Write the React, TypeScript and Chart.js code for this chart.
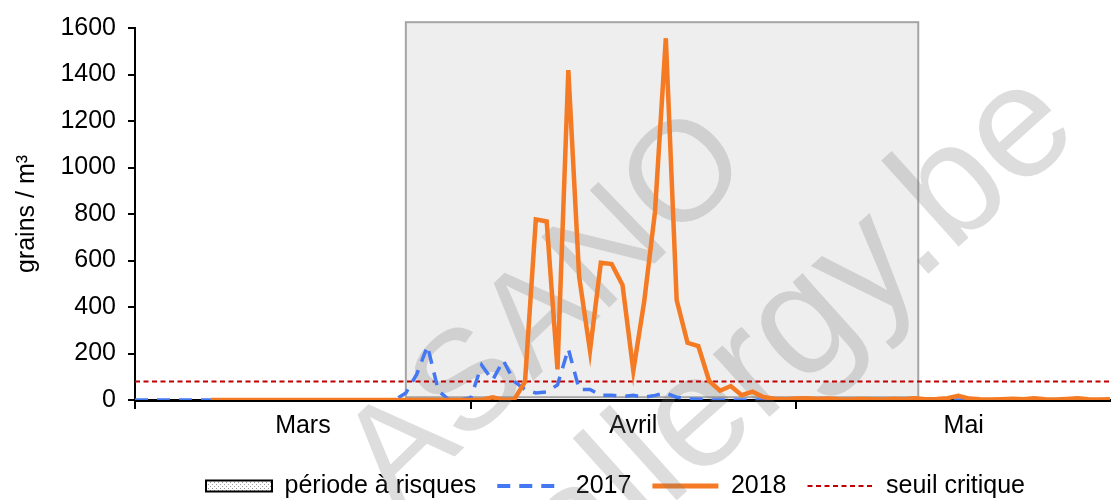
import React, { useEffect, useRef } from 'react';
import { Chart, registerables } from 'chart.js';

Chart.register(...registerables);

// ---------- data (x = day offset from 1 March) ----------
const monthLabels = ['Mars', 'Avril', 'Mai'];
const monthStarts = [0, 31, 61];
const monthCenters = [15.5, 46, 76.5];
const lastDay = 90;
const yTickValues = [0, 200, 400, 600, 800, 1000, 1200, 1400, 1600];
const legendLabels = ['période à risques', '2017', '2018', 'seuil critique'];

const pollen2017 = [
  0, 0, 0, 0, 0, 0, 0, 0, 0, 0,
  0, 0, 0, 0, 0, 0, 0, 0, 0, 0,
  0, 0, 0, 0, 0, 30, 110, 232, 40, 0,
  0, 10, 150, 85, 170, 80, 45, 30, 35, 65,
  220, 45, 45, 20, 20, 15, 20, 12, 20, 30,
  12, 5, 3, 0, 0, 0, 0, 0, 0, 0,
  0, 0, 0, 0, 0, 0, 0, 0, 0, 0,
  0, 0, 0, 0, 0, 0, 0, 0, 0, 0,
  0, 0, 0, 0, 0, 0, 0, 0, 0, 0,
  0,
];

const pollen2018 = [
  null, null, null, null, null, null, null, 0, 0, 0,
  0, 0, 0, 0, 0, 0, 0, 0, 0, 0,
  0, 0, 0, 0, 0, 0, 0, 0, 0, 0,
  0, 0, 0, 12, 0, 2, 78, 777, 768, 132,
  1419, 530, 212, 590, 585, 495, 126, 423, 810, 1556,
  430, 246, 232, 82, 40, 60, 21, 36, 13, 5,
  3, 6, 8, 4, 6, 3, 2, 4, 3, 2,
  4, 3, 8, 3, 4, 8, 18, 6, 3, 2,
  3, 5, 3, 7, 3, 2, 4, 7, 3, 2,
  3,
];

const seuilCritique = 80;
const periodeRisques = [25, 72.3]; // start / end day
const periodeBande = [12, 1625]; // low / high value of the band

// ---------- styles ----------
const FONT = "'Liberation Sans', Arial, Helvetica, sans-serif";
const BLUE = '#4477F2';
const ORANGE = '#F47A24';
const RED = '#C00000';
const LEGEND_X = 206;
const LEGEND_Y = 486;
const WATERMARK = 'rgba(120,120,120,0.25)';

function makePattern(): CanvasPattern | string {
  const c = document.createElement('canvas');
  c.width = 4;
  c.height = 4;
  const g = c.getContext('2d');
  if (!g) return '#dddddd';
  g.fillStyle = '#ffffff';
  g.fillRect(0, 0, 4, 4);
  g.fillStyle = '#9a9a9a';
  g.fillRect(0, 0, 1, 1);
  g.fillRect(2, 2, 1, 1);
  return g.createPattern(c, 'repeat') || '#dddddd';
}

function drawMark(ctx: CanvasRenderingContext2D, text: string, cx: number, cy: number, deg: number, size: number) {
  ctx.save();
  ctx.fillStyle = WATERMARK;
  ctx.textAlign = 'center';
  ctx.textBaseline = 'middle';
  ctx.translate(cx, cy);
  ctx.rotate((deg * Math.PI) / 180);
  ctx.font = `${size}px ${FONT}`;
  ctx.fillText(text, 0, 0);
  ctx.restore();
}

const riskPlugin = {
  id: 'riskPeriod',
  beforeDatasetsDraw(chart: any) {
    const { ctx } = chart;
    const xs = chart.scales.x;
    const ys = chart.scales.y;
    const left = xs.getPixelForValue(periodeRisques[0]);
    const right = xs.getPixelForValue(periodeRisques[1]);
    const top = ys.getPixelForValue(periodeBande[1]);
    const bottom = ys.getPixelForValue(periodeBande[0]);
    ctx.save();
    ctx.fillStyle = '#eeeeee';
    ctx.fillRect(left, top, right - left, bottom - top);
    ctx.strokeStyle = '#a5a5a5';
    ctx.lineWidth = 2;
    ctx.strokeRect(left, top, right - left, bottom - top);
    ctx.restore();

    drawMark(ctx, 'ASANO', 548, 312, -44, 142);
    drawMark(ctx, 'allergy.be', 800, 330, -42, 160);
  },
};

const legendShift = {
  id: 'legendShift',
  afterLayout(chart: any) {
    const lg = chart.legend;
    if (!lg || !lg.lineWidths) return;
    const pad = lg.options.labels.padding;
    const fontSize = lg.options.labels.font.size;
    const startX = (lg.left + pad + lg.right - lg.lineWidths[0]) / 2;
    const dx = LEGEND_X - startX;
    const dy = LEGEND_Y - (lg.top + pad + fontSize / 2);
    lg.left += dx;
    lg.right += dx;
    lg.top += dy;
    lg.bottom += dy;
  },
};

export default function App() {
  const ref = useRef<HTMLCanvasElement>(null);

  useEffect(() => {
    if (!ref.current) return;
    const pattern = makePattern();
    const font = { size: 25, family: FONT };

    const chart = new Chart(ref.current, {
      type: 'line',
      data: {
        datasets: [
          { label: legendLabels[0], data: [], order: 4 },
          {
            label: legendLabels[1],
            data: pollen2017.map((v, i) => ({ x: i, y: v })),
            borderColor: BLUE,
            backgroundColor: BLUE,
            borderWidth: 3.5,
            borderDash: [13, 9],
            pointRadius: 0,
            tension: 0,
            order: 2,
          },
          {
            label: legendLabels[2],
            data: pollen2018.map((v, i) => ({ x: i, y: v })),
            borderColor: ORANGE,
            backgroundColor: ORANGE,
            borderWidth: 4.5,
            pointRadius: 0,
            tension: 0,
            order: 1,
          },
          {
            label: legendLabels[3],
            data: [
              { x: 0, y: seuilCritique },
              { x: lastDay, y: seuilCritique },
            ],
            borderColor: RED,
            backgroundColor: RED,
            borderWidth: 2,
            borderDash: [5, 3.5],
            pointRadius: 0,
            order: 3,
          },
        ] as any,
      },
      options: {
        responsive: false,
        animation: false,
        events: [],
        layout: { padding: { top: 28, right: 4, left: 0, bottom: 0 } },
        plugins: {
          tooltip: { enabled: false },
          legend: {
            position: 'bottom',
            labels: {
              usePointStyle: true,
              pointStyleWidth: 66,
              boxHeight: 11,
              padding: 21,
              color: '#000',
              font,
              generateLabels: () => [
                {
                  text: legendLabels[0],
                  fillStyle: pattern as any,
                  strokeStyle: '#000',
                  lineWidth: 2,
                  pointStyle: 'rect',
                  datasetIndex: 0,
                  hidden: false,
                  fontColor: '#000',
                },
                {
                  text: legendLabels[1],
                  fillStyle: 'rgba(0,0,0,0)',
                  strokeStyle: BLUE,
                  lineWidth: 4,
                  lineDash: [13, 9],
                  pointStyle: 'line',
                  datasetIndex: 1,
                  hidden: false,
                  fontColor: '#000',
                },
                {
                  text: legendLabels[2],
                  fillStyle: 'rgba(0,0,0,0)',
                  strokeStyle: ORANGE,
                  lineWidth: 5,
                  pointStyle: 'line',
                  datasetIndex: 2,
                  hidden: false,
                  fontColor: '#000',
                },
                {
                  text: legendLabels[3],
                  fillStyle: 'rgba(0,0,0,0)',
                  strokeStyle: RED,
                  lineWidth: 2,
                  lineDash: [5, 3.5],
                  pointStyle: 'line',
                  datasetIndex: 3,
                  hidden: false,
                  fontColor: '#000',
                },
              ],
            },
          },
        },
        scales: {
          x: {
            type: 'linear',
            position: 'bottom',
            min: 0,
            max: lastDay,
            weight: 0,
            afterBuildTicks: (s: any) => {
              s.ticks = monthStarts.map((v) => ({ value: v }));
            },
            ticks: { display: false },
            grid: { drawOnChartArea: false, drawTicks: true, tickLength: 9, color: '#000', lineWidth: 2 },
            border: { display: true, color: '#000', width: 3 },
            afterFit: (s: any) => {
              s.height = 9;
            },
          },
          x2: {
            type: 'linear',
            position: 'bottom',
            min: 0,
            max: lastDay,
            weight: 1,
            afterBuildTicks: (s: any) => {
              s.ticks = monthCenters.map((v) => ({ value: v }));
            },
            ticks: {
              autoSkip: false,
              maxRotation: 0,
              padding: 2,
              color: '#000',
              font,
              callback: (_v: any, i: number) => monthLabels[i],
            },
            grid: { display: false, drawTicks: false },
            border: { display: false },
            afterFit: (s: any) => {
              const lh = s.chart.legend ? s.chart.legend.height : 56;
              s.height = 100 - 9 - lh;
            },
          },
          y: {
            type: 'linear',
            min: 0,
            max: 1600,
            afterBuildTicks: (s: any) => {
              s.ticks = yTickValues.map((v) => ({ value: v }));
            },
            ticks: { color: '#000', font, padding: 12, callback: (v: any) => String(v) },
            grid: { drawOnChartArea: false, tickLength: 7, color: '#000', lineWidth: 2 },
            border: { color: '#000', width: 2 },
            title: {
              display: true,
              text: 'grains / m³',
              color: '#000',
              font,
              padding: { top: 12, bottom: 0 },
            },
            afterFit: (s: any) => {
              s.width = 135;
            },
          },
        },
      } as any,
      plugins: [riskPlugin, legendShift],
    });

    return () => chart.destroy();
  }, []);

  return (
    <div style={{ position: 'absolute', left: 0, top: 0, width: 1114, height: 500, background: '#fff' }}>
      <canvas ref={ref} width={1114} height={500} style={{ display: 'block' }} />
    </div>
  );
}
